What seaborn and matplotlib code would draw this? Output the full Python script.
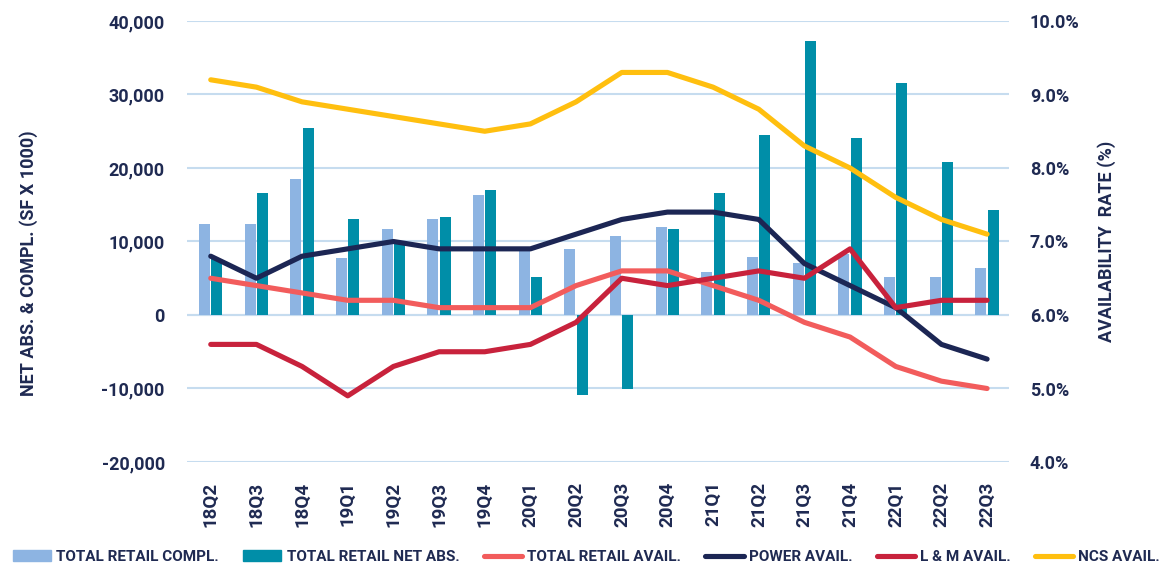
import numpy as np
import pandas as pd
import matplotlib
matplotlib.use('Agg')
import matplotlib.pyplot as plt
import seaborn as sns
from matplotlib.ticker import FuncFormatter, MultipleLocator
from matplotlib.patches import Patch
from matplotlib.lines import Line2D

quarters = ['18Q2', '18Q3', '18Q4', '19Q1', '19Q2', '19Q3', '19Q4', '20Q1', '20Q2',
            '20Q3', '20Q4', '21Q1', '21Q2', '21Q3', '21Q4', '22Q1', '22Q2', '22Q3']

# left axis (SF x 1000)
compl = [12400, 12400, 18500, 7800, 11700, 13100, 16300, 9000, 9000,
         10700, 12000, 5900, 7900, 7100, 8300, 5200, 5200, 6400]
net_abs = [7600, 16600, 25400, 13100, 9900, 13300, 17000, 5200, -10900,
           -10100, 11700, 16600, 24500, 37300, 24100, 31600, 20800, 14300]

# right axis (%)
retail_avail = [6.5, 6.4, 6.3, 6.2, 6.2, 6.1, 6.1, 6.1, 6.4, 6.6, 6.6, 6.4, 6.2, 5.9, 5.7, 5.3, 5.1, 5.0]
power_avail = [6.8, 6.5, 6.8, 6.9, 7.0, 6.9, 6.9, 6.9, 7.1, 7.3, 7.4, 7.4, 7.3, 6.7, 6.4, 6.1, 5.6, 5.4]
lm_avail = [5.6, 5.6, 5.3, 4.9, 5.3, 5.5, 5.5, 5.6, 5.9, 6.5, 6.4, 6.5, 6.6, 6.5, 6.9, 6.1, 6.2, 6.2]
ncs_avail = [9.2, 9.1, 8.9, 8.8, 8.7, 8.6, 8.5, 8.6, 8.9, 9.3, 9.3, 9.1, 8.8, 8.3, 8.0, 7.6, 7.3, 7.1]

bar_names = ['TOTAL RETAIL COMPL.', 'TOTAL RETAIL NET ABS.']
line_names = ['TOTAL RETAIL AVAIL.', 'POWER AVAIL.', 'L & M AVAIL.', 'NCS AVAIL.']
colors = {
    'TOTAL RETAIL COMPL.': '#8db4e2',
    'TOTAL RETAIL NET ABS.': '#008ea8',
    'TOTAL RETAIL AVAIL.': '#f25c5c',
    'POWER AVAIL.': '#1c2654',
    'L & M AVAIL.': '#c8223c',
    'NCS AVAIL.': '#ffbf0f',
}
navy = '#1f2a52'

bars = pd.DataFrame({
    'quarter': quarters * 2,
    'value': compl + net_abs,
    'series': [bar_names[0]] * len(quarters) + [bar_names[1]] * len(quarters),
})
lines = pd.DataFrame({
    'pos': list(range(len(quarters))) * 4,
    'rate': retail_avail + power_avail + lm_avail + ncs_avail,
    'series': sum([[n] * len(quarters) for n in line_names], []),
})

sns.set_style('white')
plt.rcParams['font.family'] = ['Roboto', 'Open Sans', 'DejaVu Sans']
plt.rcParams['font.weight'] = 'bold'

fig = plt.figure(figsize=(11.73, 5.70), dpi=100)
ax = fig.add_axes([187 / 1173, 1 - 462 / 570, 822 / 1173, 441 / 570])

sns.barplot(data=bars, x='quarter', y='value', hue='series', hue_order=bar_names,
            palette=colors, width=0.54, gap=0.12, saturation=1, linewidth=0,
            legend=False, ax=ax)
ax.set_ylim(-20000, 40000)
ax.yaxis.set_major_locator(MultipleLocator(10000))
ax.yaxis.set_major_formatter(FuncFormatter(lambda v, p: f'{v:,.0f}'))
ax.grid(axis='y', color='#c6dcef', linewidth=1.5)
ax.axhline(0, color='#d3dbf1', linewidth=1.5, zorder=0.5)
ax.set_axisbelow(True)
ax.set_xlim(-0.52, 17.48)
ax.set_xlabel('')
ax.set_ylabel('NET ABS. & COMPL. (SF X 1000)', color=navy, fontsize=13, fontweight='bold')
ax.yaxis.set_label_coords(-0.181, 0.45)
ax.tick_params(axis='y', length=0, pad=16, labelsize=13, labelcolor=navy)
ax.tick_params(axis='x', length=0, pad=14, labelsize=13.5, labelcolor=navy, rotation=90)
for t in ax.get_xticklabels() + ax.get_yticklabels():
    t.set_fontweight('bold')
for s in ax.spines.values():
    s.set_visible(False)

ax2 = ax.twinx()
sns.lineplot(data=lines, x='pos', y='rate', hue='series', hue_order=line_names,
             palette=colors, linewidth=3.7, solid_capstyle='round', legend=False, ax=ax2)
ax2.set_ylim(4, 10)
ax2.yaxis.set_major_locator(MultipleLocator(1))
ax2.yaxis.set_major_formatter(FuncFormatter(lambda v, p: f'{v:.1f}%'))
ax2.set_xlim(-0.52, 17.48)
ax2.set_xlabel('')
ax2.set_ylabel('AVAILABILITY  RATE (%)', color=navy, fontsize=13, fontweight='bold')
ax2.yaxis.set_label_coords(1.1075, 0.5)
ax2.tick_params(axis='y', length=0, pad=15, labelsize=13, labelcolor=navy)
for t in ax2.get_yticklabels():
    t.set_fontweight('bold')
ax2.grid(False)
for s in ax2.spines.values():
    s.set_visible(False)

handles = [Patch(color=colors[n]) for n in bar_names] + \
          [Line2D([0], [0], color=colors[n], linewidth=3.7, solid_capstyle='round') for n in line_names]
leg = fig.legend(handles, bar_names + line_names, loc='center', bbox_to_anchor=(0.5, 1 - 557 / 570),
                 ncol=6, frameon=False, fontsize=11, handlelength=2.5, handletextpad=0.33,
                 columnspacing=1.6)
for t in leg.get_texts():
    t.set_color(navy)
    t.set_fontweight('bold')

fig.savefig('out.png', dpi=100)
